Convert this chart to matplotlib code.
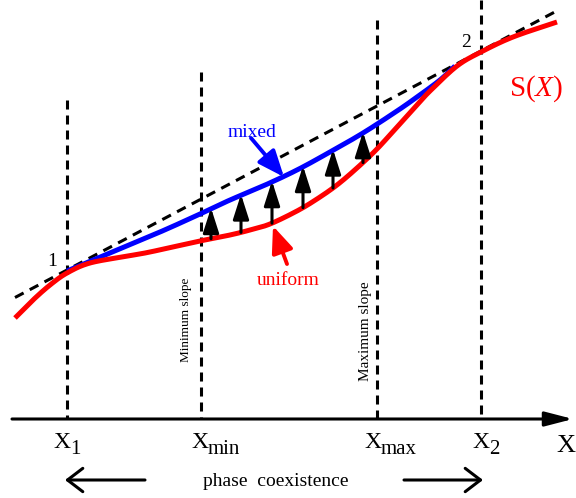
import numpy as np
import matplotlib
matplotlib.use("Agg")
import matplotlib.pyplot as plt

plt.rcParams['font.family'] = ['Liberation Serif', 'DejaVu Serif']
plt.rcParams['mathtext.fontset'] = 'custom'
plt.rcParams['mathtext.rm'] = 'Liberation Serif'
plt.rcParams['mathtext.it'] = 'Liberation Serif:italic'
plt.rcParams['lines.scale_dashes'] = False

# everything is laid out in picture units (pixels), y grows downward
uniform_x = [15, 33, 50, 67, 90, 128, 150, 200, 230, 250, 270, 297, 317, 337, 357, 377, 397, 417, 430, 457, 481, 513, 557]
uniform_y = [318, 300, 285, 273, 263, 256, 252, 241, 235, 230, 224, 211, 199, 185, 168, 149, 127, 105, 91, 66, 52, 37, 22]
mixed_x = [67, 110, 160, 200, 230, 263, 297, 330, 363, 397, 417, 440, 455]
mixed_y = [271, 253, 232, 214, 200, 186, 170, 152, 133, 111, 97, 80, 66]

# common tangent touches the curve at points 1 and 2
touch_x = [67, 481]
touch_y = [270, 51]
touch_names = ['1', '2']
tangent_span = [15, 560]

vline_x = [67, 201, 377, 481]
vline_top = [100, 72, 20, 0]
tick_main = ['X', 'X', 'X', 'X']
tick_sub = ['1', 'min', 'max', '2']
tick_x = [62, 200, 373, 481]

arrow_x = [211, 241, 272, 303, 333, 363]

axis_y = 419
axis_span = [12, 573]


def smooth(xs, ys, n=25):
    # catmull-rom through the read points
    p = np.column_stack([xs, ys]).astype(float)
    p = np.vstack([2 * p[0] - p[1], p, 2 * p[-1] - p[-2]])
    t = np.linspace(0, 1, n, endpoint=False)[:, None]
    out = []
    for i in range(1, len(p) - 2):
        p0, p1, p2, p3 = p[i - 1], p[i], p[i + 1], p[i + 2]
        seg = 0.5 * (2 * p1 + (-p0 + p2) * t + (2 * p0 - 5 * p1 + 4 * p2 - p3) * t ** 2
                     + (-p0 + 3 * p1 - 3 * p2 + p3) * t ** 3)
        out.append(seg)
    out.append(p[-2][None, :])
    c = np.vstack(out)
    return c[:, 0], c[:, 1]


fig = plt.figure(figsize=(5.76, 4.98), dpi=100)
ax = fig.add_axes([0, 0, 1, 1])
ax.set_xlim(0, 576)
ax.set_ylim(498, 0)
ax.axis('off')

# vertical dashed guides
for x, top in zip(vline_x, vline_top):
    ax.plot([x, x], [top, axis_y], color='k', lw=2.2, dashes=(6.5, 4.3), zorder=1)

# tangent line
slope = (touch_y[1] - touch_y[0]) / (touch_x[1] - touch_x[0])
ty = [touch_y[0] + slope * (x - touch_x[0]) for x in tangent_span]
ax.plot(tangent_span, ty, color='k', lw=2.2, dashes=(7, 5), zorder=2)

ux, uy = smooth(uniform_x, uniform_y)
mx, my = smooth(mixed_x, mixed_y)
ax.plot(mx, my, color='#0000ff', lw=3.6, solid_capstyle='butt', zorder=3)
ax.plot(ux, uy, color='#ff0000', lw=3.6, solid_capstyle='butt', zorder=4)

# arrows from uniform up to mixed
tails = np.interp(arrow_x, ux, uy)
heads = np.interp(arrow_x, mx, my) - 1
for x, y0, y1 in zip(arrow_x, tails, heads):
    ax.annotate('', xy=(x, y1), xytext=(x, y0),
                arrowprops=dict(arrowstyle='-|>,head_length=0.75,head_width=0.24', color='k',
                                lw=2.2, mutation_scale=20, shrinkA=0, shrinkB=0), zorder=5)

for x, y, s in zip(touch_x, touch_y, touch_names):
    ax.text(x - 15, y - 9, s, fontsize=14, ha='center', va='center')

ax.text(536, 89, r'S($\mathit{X}$)', color='#ff0000', fontsize=21, ha='center', va='center')

ax.text(252, 132, 'mixed', color='#0000ff', fontsize=14, ha='center', va='center')
ax.annotate('', xy=(284, 177), xytext=(251, 138),
            arrowprops=dict(arrowstyle='-|>,head_length=0.8,head_width=0.33', color='#0000ff',
                            lw=2.8, mutation_scale=20, shrinkA=0, shrinkB=0), zorder=6)
ax.text(288, 280, 'uniform', color='#ff0000', fontsize=14, ha='center', va='center')
ax.annotate('', xy=(273, 226), xytext=(287, 264),
            arrowprops=dict(arrowstyle='-|>,head_length=0.8,head_width=0.33', color='#ff0000',
                            lw=2.8, mutation_scale=20, shrinkA=0, shrinkB=0), zorder=6)

ax.text(186, 320, 'Minimum slope', fontsize=9.5, rotation=90, ha='center', va='center')
ax.text(365, 331, 'Maximum slope', fontsize=11, rotation=90, ha='center', va='center')

# x axis with arrow head
ax.annotate('', xy=(axis_span[1], axis_y), xytext=(axis_span[0], axis_y),
            arrowprops=dict(arrowstyle='-|>,head_length=0.85,head_width=0.22', color='k',
                            lw=2.2, mutation_scale=20, shrinkA=0, shrinkB=0))
for x, m, s in zip(tick_x, tick_main, tick_sub):
    ax.text(x, 442, m, fontsize=17, ha='center', va='center')
    ax.text(x + 8, 449, s, fontsize=15, ha='left', va='center')
ax.text(566, 446, 'X', fontsize=19, ha='center', va='center')

ax.text(276, 481, 'phase  coexistence', fontsize=14, ha='center', va='center')
ax.annotate('', xy=(65, 480), xytext=(145, 480),
            arrowprops=dict(arrowstyle='->,head_length=0.55,head_width=0.42', color='k',
                            lw=2.2, mutation_scale=20, shrinkA=0, shrinkB=0))
ax.annotate('', xy=(483, 480), xytext=(404, 480),
            arrowprops=dict(arrowstyle='->,head_length=0.55,head_width=0.42', color='k',
                            lw=2.2, mutation_scale=20, shrinkA=0, shrinkB=0))

fig.savefig('out.png', dpi=100)
